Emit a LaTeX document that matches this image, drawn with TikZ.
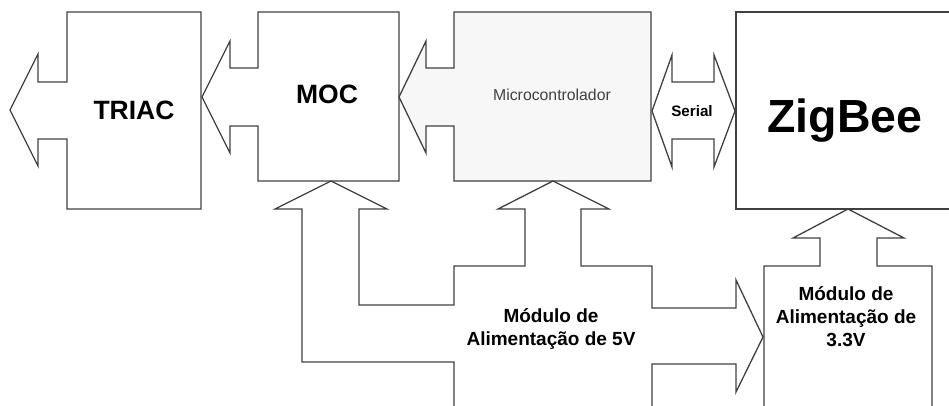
\documentclass[tikz,border=0pt]{standalone}
\usepackage{fontspec}
\setmainfont{Liberation Sans}
\begin{document}
\begin{tikzpicture}[x=1pt,y=-1pt,
  outline/.style={draw=black!75,line width=1.3pt,line join=miter},
  lbl/.style={inner sep=0pt,anchor=base,font=\bfseries}]
\useasboundingbox (0,0) rectangle (949,405);
\begin{scope}
\clip (0,0) rectangle (949,405);
% TRIAC with outgoing arrow
\draw[outline] (67,12) -- (201,12) -- (201,209) -- (67,209) -- (67,139) -- (38,139)
  -- (38,166) -- (10,110) -- (38,54) -- (38,82) -- (67,82) -- cycle;
% MOC with arrow to TRIAC
\draw[outline] (258,12) -- (399,12) -- (399,181) -- (258,181) -- (258,126) -- (230,126)
  -- (230,153) -- (202,97) -- (230,41) -- (230,68) -- (258,68) -- cycle;
% Microcontrolador with arrow to MOC
\draw[outline,fill=gray!6] (454,12) -- (651,12) -- (651,181) -- (454,181) -- (454,126) -- (426,126)
  -- (426,153) -- (399,97) -- (426,41) -- (426,68) -- (454,68) -- cycle;
% Serial double arrow
\draw[outline] (652,111) -- (672,55) -- (672,82) -- (714,82) -- (714,55) -- (735,111)
  -- (714,167) -- (714,139) -- (672,139) -- (672,167) -- cycle;
% ZigBee box (extends past the right edge)
\draw[outline] (1000,12) -- (736,12) -- (736,209) -- (1000,209);
% 3.3V module with arrow to ZigBee
\draw[outline] (764,415) -- (764,266) -- (820,266) -- (820,238) -- (793,238) -- (848,209)
  -- (904,238) -- (877,238) -- (877,266) -- (932,266) -- (932,415);
% 5V module with arrows to MOC, Microcontrolador and 3.3V module
\draw[outline] (454,415) -- (454,362) -- (302,362) -- (302,209) -- (275,209) -- (331,181)
  -- (387,209) -- (359,209) -- (359,305) -- (454,305) -- (454,266) -- (525,266)
  -- (525,209) -- (498,209) -- (553,181) -- (609,209) -- (581,209) -- (581,266)
  -- (652,266) -- (652,308) -- (736,308) -- (736,280) -- (763,337) -- (736,392)
  -- (736,364) -- (652,364) -- (652,415);
\end{scope}
% labels
\node[lbl,font=\fontsize{26.5}{30}\selectfont\bfseries] (triac) at (134,119) {TRIAC};
\node[lbl,font=\fontsize{26.5}{30}\selectfont\bfseries] (moc) at (327,103) {MOC};
\node[lbl,font=\fontsize{15.8}{18}\selectfont,text=black!75] (micro) at (552,100) {Microcontrolador};
\node[lbl,font=\fontsize{15.2}{18}\selectfont\bfseries] (serial) at (692,116) {Serial};
\node[lbl,font=\fontsize{46.5}{50}\selectfont\bfseries] (zigbee) at (845,132) {ZigBee};
\node[lbl,font=\fontsize{19}{22}\selectfont\bfseries] (m5a) at (551,322) {Módulo de};
\node[lbl,font=\fontsize{19}{22}\selectfont\bfseries] (m5b) at (551,345) {Alimentação de 5V};
\node[lbl,font=\fontsize{19}{22}\selectfont\bfseries] (m3a) at (846,300) {Módulo de};
\node[lbl,font=\fontsize{19}{22}\selectfont\bfseries] (m3b) at (846,323) {Alimentação de};
\node[lbl,font=\fontsize{19}{22}\selectfont\bfseries] (m3c) at (846,346) {3.3V};
\end{tikzpicture}
\end{document}
